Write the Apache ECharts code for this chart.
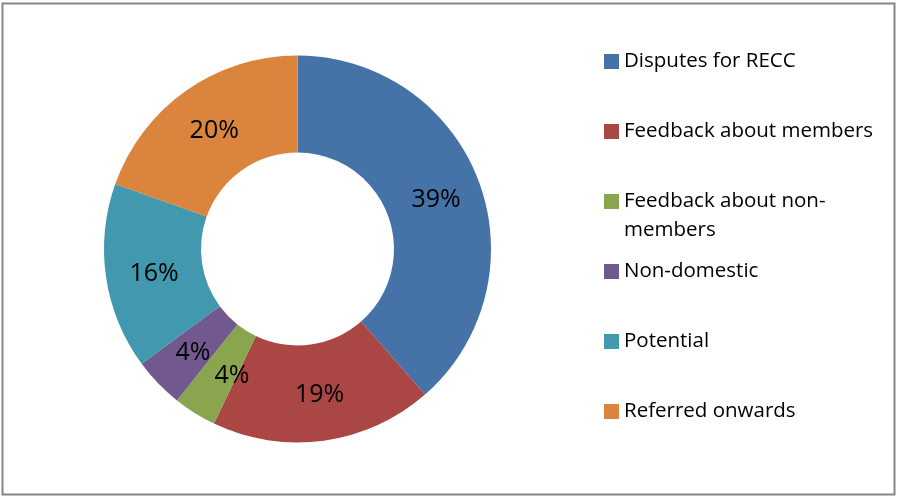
<!DOCTYPE html>
<html>
<head>
<meta charset="utf-8">
<script src="https://cdn.jsdelivr.net/npm/echarts@6/dist/echarts.min.js"></script>
<style>
html,body{margin:0;padding:0;background:#fff;}
#c{width:901px;height:500px;}
</style>
</head>
<body>
<div id="c"></div>
<script>
const categories = ['Disputes for RECC','Feedback about members','Feedback about non-members','Non-domestic','Potential','Referred onwards'];
const legendTexts = ['Disputes for RECC','Feedback about members','\nFeedback about non-\nmembers','Non-domestic','Potential','Referred onwards'];
const values = [38.55, 18.55, 3.6, 4.2, 15.55, 19.55];
const colors = ['#4572A7','#AA4643','#89A54E','#71588F','#4198AF','#DB843D'];

const FONT = 'Open Sans';
const iconTops = [54, 124, 194, 264, 334, 404];
const labelOffsets = [[0,3],[2,-1],[13,1],[2,1],[3,3],[2,3]];

const legends = categories.map((name, i) => {
  const multi = legendTexts[i].indexOf('\n') >= 0;
  return {
    data: [name],
    orient: 'vertical',
    left: 604,
    top: iconTops[i] - (multi ? 36 : 7),
    padding: 0,
    itemWidth: 15,
    itemHeight: 15,
    icon: 'rect',
    selectedMode: false,
    formatter: () => legendTexts[i],
    textStyle: { fontFamily: FONT, fontSize: 20.5, color: '#000', lineHeight: 29 }
  };
});

const chart = echarts.init(document.getElementById('c'), null, {renderer: 'canvas'});
chart.setOption({
  animation: false,
  backgroundColor: '#fff',
  color: colors,
  legend: legends,
  graphic: [{
    type: 'rect',
    shape: { x: 2.5, y: 3.5, width: 892, height: 491 },
    style: { fill: 'none', stroke: '#868686', lineWidth: 2 },
    silent: true
  }],
  series: [{
    type: 'pie',
    center: [297.5, 249],
    radius: [96.5, 193.5],
    startAngle: 90,
    clockwise: true,
    avoidLabelOverlap: false,
    labelLayout: { hideOverlap: false },
    label: {
      show: true,
      position: 'inside',
      fontFamily: FONT,
      fontSize: 25,
      color: '#000',
      formatter: p => Math.round(p.percent) + '%'
    },
    labelLine: { show: false },
    itemStyle: { borderWidth: 0 },
    emphasis: { disabled: true },
    data: categories.map((n, i) => ({ name: n, value: values[i], label: { offset: labelOffsets[i] } }))
  }]
});
</script>
</body>
</html>
